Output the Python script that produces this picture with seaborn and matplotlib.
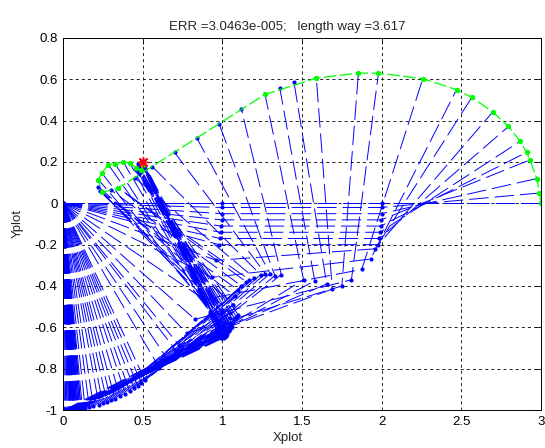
import numpy as np
import pandas as pd
import matplotlib
matplotlib.use("Agg")
import matplotlib.pyplot as plt
import seaborn as sns

# Joint coordinates of the three-link arm for each drawn frame (base at the origin)
j1x = [1.000, 1.000, 0.999, 0.997, 0.994, 0.990, 0.985, 0.980, 0.961, 0.934, 0.885, 0.828,
       0.777, 0.728, 0.706, 0.656, 0.605,
       0.515, 0.492, 0.469, 0.446, 0.418, 0.391, 0.358, 0.326, 0.301, 0.276, 0.250, 0.225,
       0.191, 0.165,
       0.139, 0.105, 0.087, 0.078, 0.070, 0.070, 0.061, 0.061, 0.052, 0.052, 0.070, 0.070,
       0.087, 0.078, 0.061, 0.052, 0.044, 0.035, 0.044, 0.061, 0.096, 0.113,
       0.105, 0.096, 0.087, 0.078, 0.061, 0.044, 0.035, 0.026, 0.017, 0.009, 0.026, 0.044,
       0.070, 0.087, 0.113, 0.122]
j1y = [0.000, -0.020, -0.050, -0.080, -0.110, -0.140, -0.170, -0.200, -0.276, -0.358, -0.465, -0.561,
       -0.629, -0.686, -0.709, -0.755, -0.797,
       -0.857, -0.870, -0.883, -0.895, -0.909, -0.921, -0.934, -0.946, -0.954, -0.961, -0.968, -0.974,
       -0.982, -0.986,
       -0.990, -0.995, -0.996, -0.997, -0.998, -0.998, -0.998, -0.998, -0.999, -0.999, -0.998, -0.998,
       -0.996, -0.997, -0.998, -0.999, -0.999, -0.999, -0.999, -0.998, -0.995, -0.994,
       -0.995, -0.995, -0.996, -0.997, -0.998, -0.999, -0.999, -1.000, -1.000, -1.000, -1.000, -0.999,
       -0.998, -0.996, -0.994, -0.993]
j2x = [2.000, 2.000, 1.999, 1.997, 1.994, 1.990, 1.985, 1.980, 1.960, 1.930, 1.875, 1.810,
       1.750, 1.690, 1.655, 1.580, 1.510,
       1.370, 1.330, 1.300, 1.270, 1.240, 1.200, 1.170, 1.150, 1.120, 1.100, 1.080, 1.070,
       1.050, 1.045,
       1.040, 1.030, 1.020, 1.020, 1.010, 1.010, 1.000, 1.000, 1.000, 1.000, 1.010, 1.000,
       1.040, 1.050, 1.030, 1.020, 1.010, 1.000, 0.990, 1.040, 1.060, 1.080,
       1.060, 1.050, 1.040, 1.030, 1.020, 1.000, 0.990, 0.980, 0.975, 0.970, 0.990, 1.010,
       1.050, 1.070, 1.090, 1.100]
j2y = [0.000, -0.020, -0.050, -0.080, -0.110, -0.140, -0.170, -0.200, -0.220, -0.270, -0.320, -0.370,
       -0.400, -0.415, -0.390, -0.375, -0.370,
       -0.345, -0.350, -0.340, -0.340, -0.345, -0.360, -0.370, -0.380, -0.400, -0.420, -0.450, -0.490,
       -0.530, -0.555,
       -0.580, -0.610, -0.620, -0.620, -0.630, -0.630, -0.630, -0.630, -0.635, -0.630, -0.625, -0.630,
       -0.600, -0.590, -0.620, -0.640, -0.650, -0.640, -0.630, -0.610, -0.580, -0.560,
       -0.600, -0.610, -0.620, -0.630, -0.640, -0.650, -0.650, -0.640, -0.630, -0.620, -0.610, -0.600,
       -0.590, -0.570, -0.550, -0.540]
tipx = [3.000, 2.990, 2.974, 2.930, 2.910, 2.869, 2.796, 2.697, 2.566, 2.470, 2.258, 1.980,
        1.854, 1.590, 1.450, 1.360, 1.268,
        1.120, 0.980, 0.840, 0.700, 0.560, 0.450, 0.347, 0.347, 0.300, 0.243, 0.243, 0.222,
        0.230, 0.243,
        0.243, 0.222, 0.243, 0.285, 0.326, 0.378, 0.420, 0.460, 0.490, 0.500, 0.494, 0.500,
        0.470, 0.480, 0.500, 0.490, 0.500, 0.500, 0.495, 0.485, 0.470, 0.480,
        0.500, 0.495, 0.490, 0.500, 0.505, 0.500, 0.495, 0.490, 0.500, 0.500, 0.480, 0.470,
        0.460, 0.470, 0.480, 0.490]
tipy = [0.000, 0.050, 0.120, 0.210, 0.247, 0.300, 0.372, 0.442, 0.513, 0.550, 0.603, 0.630,
        0.630, 0.606, 0.585, 0.560, 0.527,
        0.455, 0.385, 0.316, 0.247, 0.178, 0.124, 0.074, 0.074, 0.065, 0.053, 0.053, 0.080,
        0.060, 0.053,
        0.053, 0.115, 0.147, 0.187, 0.192, 0.200, 0.195, 0.170, 0.160, 0.185, 0.195, 0.200,
        0.190, 0.175, 0.200, 0.200, 0.190, 0.200, 0.200, 0.195, 0.160, 0.150,
        0.200, 0.195, 0.190, 0.200, 0.205, 0.200, 0.200, 0.195, 0.200, 0.205, 0.180, 0.170,
        0.160, 0.150, 0.140, 0.150]

# Planned end-effector way (waypoints)
way_x = [3.000, 2.990, 2.974, 2.930, 2.910, 2.869, 2.796, 2.697, 2.566, 2.470, 2.258, 1.980,
         1.854, 1.590, 1.268, 0.347, 0.243, 0.222, 0.243, 0.285, 0.326, 0.378, 0.420, 0.460,
         0.490, 0.500, 0.494, 0.500]
way_y = [0.000, 0.050, 0.120, 0.210, 0.247, 0.300, 0.372, 0.442, 0.513, 0.550, 0.603, 0.630,
         0.630, 0.606, 0.527, 0.074, 0.053, 0.115, 0.147, 0.187, 0.192, 0.200, 0.195, 0.170,
         0.160, 0.185, 0.195, 0.200]

# Target point
target_x = [0.5]
target_y = [0.2]

x_ticks = [0, 0.5, 1, 1.5, 2, 2.5, 3]
y_ticks = [-1, -0.8, -0.6, -0.4, -0.2, 0, 0.2, 0.4, 0.6, 0.8]
x_tick_labels = ["0", "0.5", "1", "1.5", "2", "2.5", "3"]
y_tick_labels = ["-1", "-0.8", "-0.6", "-0.4", "-0.2", "0", "0.2", "0.4", "0.6", "0.8"]
title_text = "ERR =3.0463e-005;   length way =3.617"

sns.set_style("white")
plt.rcParams["font.family"] = ["Liberation Sans", "DejaVu Sans"]
plt.rcParams["lines.scale_dashes"] = False

rows = []
for k in range(len(j1x)):
    pts = [(0.0, 0.0), (j1x[k], j1y[k]), (j2x[k], j2y[k]), (tipx[k], tipy[k])]
    for order, (px, py) in enumerate(pts):
        rows.append({"frame": k, "order": order, "x": px, "y": py})
arm = pd.DataFrame(rows)
way = pd.DataFrame({"x": way_x, "y": way_y, "order": range(len(way_x))})

fig = plt.figure(figsize=(5.45, 4.48), dpi=100)
ax = fig.add_axes([63 / 545, 38 / 448, 478 / 545, 372 / 448])

sns.lineplot(data=arm, x="x", y="y", units="frame", estimator=None, sort=False,
             color="#0000ff", lw=0.7, linestyle=(0, (14, 4.3)),
             marker="o", markersize=3, markeredgewidth=0, ax=ax, legend=False)
sns.lineplot(data=way, x="x", y="y", estimator=None, sort=False,
             color="#00ff00", lw=0.9, linestyle=(0, (9, 2.5)),
             marker="o", markersize=3.8, markeredgewidth=0, ax=ax, legend=False)
ax.plot(target_x, target_y, linestyle="none", marker=(8, 2, 0), markersize=8,
        markeredgecolor="#ff0000", markeredgewidth=1.0, color="#ff0000", zorder=5)

ax.set_xlim(0, 3)
ax.set_ylim(-1, 0.8)
ax.set_xticks(x_ticks)
ax.set_xticklabels(x_tick_labels)
ax.set_yticks(y_ticks)
ax.set_yticklabels(y_tick_labels)
ax.grid(True, color="#222222", linestyle=(0, (2.2, 2.2)), lw=0.7)
ax.set_axisbelow(True)
for s in ax.spines.values():
    s.set_color("black")
    s.set_linewidth(0.7)
ax.tick_params(direction="in", length=4, width=0.6, top=True, right=True,
               labelsize=9.5, colors="black", pad=4)
ax.set_title(title_text, fontsize=9.5, pad=6, x=0.47)
ax.set_xlabel("Xplot", fontsize=9.5, labelpad=3, x=0.47)
ax.set_ylabel("Yplot", fontsize=9.5, labelpad=8)

fig.savefig("out.png", dpi=100, facecolor="white")
